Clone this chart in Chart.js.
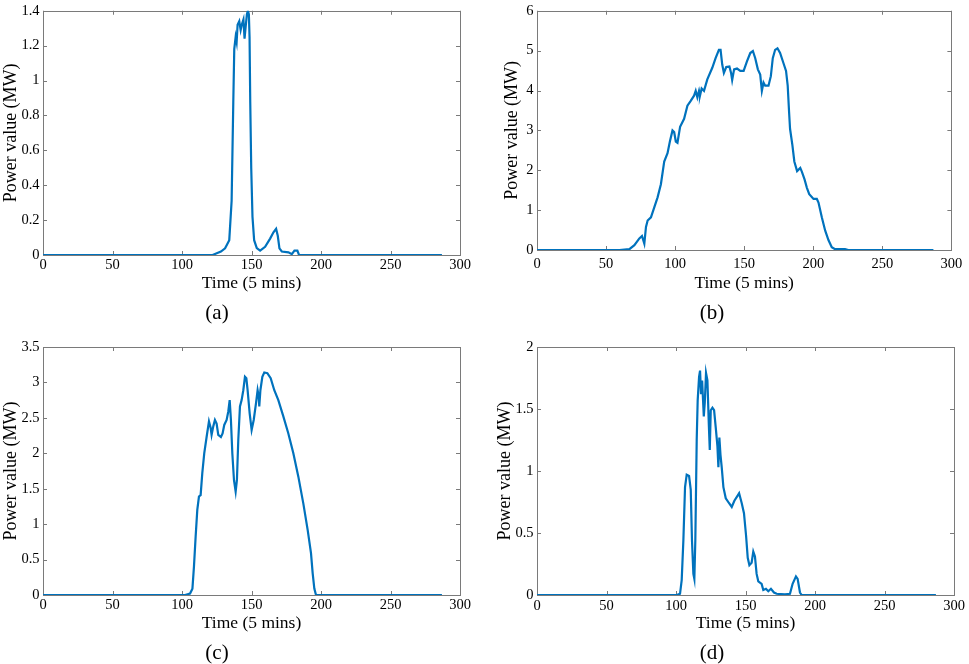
<!DOCTYPE html>
<html>
<head>
<meta charset="utf-8">
<script src="https://cdn.jsdelivr.net/npm/chart.js@4"></script>
<style>
  body { margin: 0; background: #fff; }
  #wrap { position: relative; width: 969px; height: 664px; overflow: hidden; }
  .panel { position: absolute; }
  .caption {
    position: absolute;
    transform: translate(-50%, -50%);
    font-family: 'Liberation Serif', 'Times New Roman', serif;
    font-size: 21px;
    line-height: 1;
    color: #000;
  }
</style>
</head>
<body>
<div id="wrap">
  <div class="panel" style="left:0;top:0;width:480px;height:300px"><canvas id="chartA"></canvas></div>
  <div class="panel" style="left:500px;top:0;width:469px;height:300px"><canvas id="chartB"></canvas></div>
  <div class="panel" style="left:0;top:330px;width:480px;height:310px"><canvas id="chartC"></canvas></div>
  <div class="panel" style="left:490px;top:330px;width:479px;height:310px"><canvas id="chartD"></canvas></div>
  <div class="caption" style="left:217px;top:312px">(a)</div>
  <div class="caption" style="left:712px;top:312px">(b)</div>
  <div class="caption" style="left:217px;top:652px">(c)</div>
  <div class="caption" style="left:712px;top:652px">(d)</div>
</div>
<script>
// time index (5 min steps) and power in MW
const timeA = [0, 122, 125, 128, 131, 134, 135.7, 136.9, 137.6, 138.6, 139.3, 140, 141.2, 142.2, 143, 144.2, 145, 145.7, 146.7, 147.4, 148.1, 148.6, 149.1, 149.8, 150.7, 151.9, 153.8, 156.2, 159.8, 163.4, 165.8, 167.7, 168.9, 170.1, 171.8, 176.6, 179, 180.9, 183, 184.2, 287];
const powerA = [0, 0, 0.01, 0.02, 0.038, 0.085, 0.31, 0.875, 1.18, 1.25, 1.22, 1.32, 1.34, 1.29, 1.32, 1.35, 1.24, 1.3, 1.38, 1.4, 1.38, 1.25, 0.875, 0.5, 0.22, 0.085, 0.04, 0.025, 0.047, 0.094, 0.13, 0.15, 0.11, 0.038, 0.02, 0.015, 0.005, 0.025, 0.025, 0, 0];

const timeB = [0, 59.7, 66.9, 70.5, 74.1, 76, 77.7, 78.9, 80.1, 82.5, 84.9, 87.3, 89.7, 92.1, 94.5, 96.2, 98.1, 99.3, 100.5, 101.7, 103.6, 106.5, 108.9, 111.3, 113.7, 114.9, 116.1, 117.3, 118, 119.2, 120.9, 123.3, 126.9, 129.3, 131.7, 132.9, 134.1, 135.3, 137, 139.3, 140.5, 141.3, 142.7, 144.8, 147.2, 149.6, 152, 154.4, 156.3, 158, 159.9, 161.6, 162.8, 164, 165.2, 167.6, 169.3, 170.7, 172.4, 174.1, 176, 178.4, 180.3, 181.5, 182.5, 183.2, 184.9, 186.3, 188.3, 190.6, 191.8, 193.7, 195.4, 197.1, 200.2, 202.6, 203.8, 206.2, 208.6, 211, 213.4, 215.8, 223, 225.4, 287];
const powerB = [0, 0, 0.02, 0.12, 0.29, 0.35, 0.16, 0.58, 0.74, 0.82, 1.07, 1.32, 1.65, 2.22, 2.43, 2.72, 3.0, 2.96, 2.72, 2.69, 3.09, 3.29, 3.62, 3.74, 3.87, 3.99, 3.83, 3.99, 3.87, 4.05, 3.99, 4.28, 4.57, 4.81, 5.02, 5.02, 4.65, 4.44, 4.59, 4.6, 4.44, 4.26, 4.53, 4.55, 4.49, 4.49, 4.73, 4.94, 4.99, 4.81, 4.53, 4.4, 3.99, 4.2, 4.12, 4.12, 4.36, 4.81, 5.02, 5.06, 4.94, 4.69, 4.49, 4.12, 3.46, 3.04, 2.63, 2.22, 1.98, 2.06, 1.96, 1.77, 1.56, 1.4, 1.28, 1.28, 1.19, 0.82, 0.49, 0.25, 0.07, 0.02, 0.02, 0, 0];

const timeC = [0, 102.2, 105.8, 107.5, 108.6, 109.8, 111, 112.2, 113.4, 114.6, 116, 117.7, 119.4, 120.6, 121.3, 122.5, 123.7, 124.9, 126.1, 128, 129.2, 130.4, 132.1, 133.3, 134.3, 135.2, 136.2, 137.4, 138.6, 139.5, 140.5, 141.7, 142.9, 144.1, 145.3, 146.3, 147.2, 148.7, 150.1, 151.6, 153.2, 154.4, 155.2, 155.6, 156.4, 157.8, 159.2, 161.4, 163.8, 166.4, 169.3, 172.9, 176.5, 180.1, 183.7, 187.3, 190.4, 192.8, 194, 195.2, 196.4, 287];
const powerC = [0, 0, 0.02, 0.09, 0.4, 0.82, 1.2, 1.39, 1.41, 1.72, 2.0, 2.23, 2.45, 2.36, 2.26, 2.38, 2.47, 2.42, 2.26, 2.23, 2.28, 2.4, 2.47, 2.59, 2.75, 2.47, 2.0, 1.62, 1.46, 1.62, 2.19, 2.66, 2.75, 2.89, 3.08, 3.06, 2.89, 2.56, 2.33, 2.47, 2.7, 2.89, 2.8, 2.66, 2.89, 3.08, 3.14, 3.13, 3.06, 2.89, 2.75, 2.52, 2.28, 2.0, 1.67, 1.29, 0.92, 0.59, 0.31, 0.09, 0, 0];

const timeD = [0, 100.5, 102.9, 104.1, 105.3, 106.5, 107.7, 109.4, 110.6, 111.5, 112.5, 113.2, 113.9, 114.9, 115.6, 116.6, 117.3, 118, 118.8, 120, 120.7, 121.6, 122.6, 123.6, 124.3, 125, 126.2, 127.4, 128.6, 129.8, 130.5, 131.2, 132, 132.9, 134.1, 135.8, 138.2, 140.1, 142, 145.4, 147.3, 148.9, 150.4, 151.6, 152.8, 154.4, 155.6, 156.8, 158, 159.2, 161.6, 162.8, 164.7, 166.4, 168.3, 170.5, 172.4, 178.4, 182, 183.9, 186.3, 187.5, 189.2, 190.4, 287];
const powerD = [0, 0, 0.01, 0.12, 0.44, 0.87, 0.97, 0.96, 0.85, 0.44, 0.17, 0.13, 0.44, 1.25, 1.57, 1.76, 1.81, 1.62, 1.73, 1.44, 1.55, 1.79, 1.73, 1.38, 1.17, 1.49, 1.51, 1.49, 1.35, 1.2, 1.03, 1.27, 1.13, 1.03, 0.87, 0.78, 0.74, 0.71, 0.76, 0.82, 0.74, 0.66, 0.48, 0.3, 0.24, 0.26, 0.35, 0.31, 0.17, 0.11, 0.09, 0.04, 0.05, 0.03, 0.05, 0.02, 0.01, 0.005, 0.01, 0.09, 0.15, 0.13, 0.02, 0, 0];

// axis ranges / tick steps
const xTicks = { min: 0, max: 300, step: 50 };
const yRangeA = { max: 1.4, step: 0.2 };
const yRangeB = { max: 6, step: 1 };
const yRangeC = { max: 3.5, step: 0.5 };
const yRangeD = { max: 2, step: 0.5 };

const xTitle = 'Time (5 mins)';
const yTitle = 'Power value (MW)';

const serif = "'Liberation Serif', 'Times New Roman', serif";
Chart.defaults.font.family = serif;
Chart.defaults.color = '#000';

// matlab-ish box with inward ticks on every side
const frameTicks = {
  id: 'frameTicks',
  beforeDatasetsDraw(chart) {
    const { ctx, chartArea, scales } = chart;
    const { left, right, top, bottom } = chartArea;
    ctx.save();
    ctx.strokeStyle = '#7a7a7a';
    ctx.lineWidth = 1;
    ctx.strokeRect(Math.round(left) + 0.5, Math.round(top) + 0.5, Math.round(right - left), Math.round(bottom - top));
    ctx.beginPath();
    scales.x.ticks.forEach(t => {
      const px = Math.round(scales.x.getPixelForValue(t.value)) + 0.5;
      ctx.moveTo(px, bottom); ctx.lineTo(px, bottom - 4);
      ctx.moveTo(px, top); ctx.lineTo(px, top + 4);
    });
    scales.y.ticks.forEach(t => {
      const py = Math.round(scales.y.getPixelForValue(t.value)) + 0.5;
      ctx.moveTo(left, py); ctx.lineTo(left + 4, py);
      ctx.moveTo(right, py); ctx.lineTo(right - 4, py);
    });
    ctx.stroke();
    ctx.restore();
  }
};

function makePanel(id, times, power, yRange, box) {
  const points = times.map((t, i) => ({ x: t, y: power[i] }));
  return new Chart(document.getElementById(id), {
    type: 'line',
    data: {
      datasets: [{
        data: points,
        borderColor: '#0072BD',
        borderWidth: 2.2,
        pointRadius: 0,
        tension: 0,
        fill: false
      }]
    },
    options: {
      responsive: true,
      maintainAspectRatio: false,
      animation: false,
      layout: { padding: { top: box.top, right: box.right, left: 0, bottom: 0 } },
      plugins: { legend: { display: false }, tooltip: { enabled: false } },
      scales: {
        x: {
          type: 'linear',
          min: xTicks.min,
          max: xTicks.max,
          grid: { display: false, drawTicks: false },
          border: { display: false },
          ticks: {
            stepSize: xTicks.step,
            maxRotation: 0,
            padding: box.xPad,
            font: { size: 14.5, lineHeight: 1 }
          },
          title: {
            display: true,
            text: xTitle,
            font: { size: 17.5 },
            padding: { top: 0, bottom: 6.5 }
          },
          afterFit: s => { s.height = box.xHeight; }
        },
        y: {
          min: 0,
          max: yRange.max,
          grid: { display: false, drawTicks: false },
          border: { display: false },
          ticks: {
            stepSize: yRange.step,
            padding: 3.5,
            font: { size: 14.5, lineHeight: 1 },
            callback: v => String(Math.round(v * 10) / 10)
          },
          title: {
            display: true,
            text: yTitle,
            font: { size: 18 },
            padding: { top: box.yTitlePad, bottom: 0 }
          },
          afterFit: s => { s.width = box.yWidth; }
        }
      }
    },
    plugins: [frameTicks]
  });
}

document.addEventListener('DOMContentLoaded', () => {
  makePanel('chartA', timeA, powerA, yRangeA, { top: 7, right: 20, yWidth: 43, xHeight: 45, xPad: 2.75, yTitlePad: 0 });
  makePanel('chartB', timeB, powerB, yRangeB, { top: 7, right: 15, yWidth: 37, xHeight: 50, xPad: 6.75, yTitlePad: 1 });
  makePanel('chartC', timeC, powerC, yRangeC, { top: 17, right: 20, yWidth: 43, xHeight: 45, xPad: 2.75, yTitlePad: 0 });
  makePanel('chartD', timeD, powerD, yRangeD, { top: 17, right: 15, yWidth: 47, xHeight: 45, xPad: 3.75, yTitlePad: 4 });
});
</script>
</body>
</html>
